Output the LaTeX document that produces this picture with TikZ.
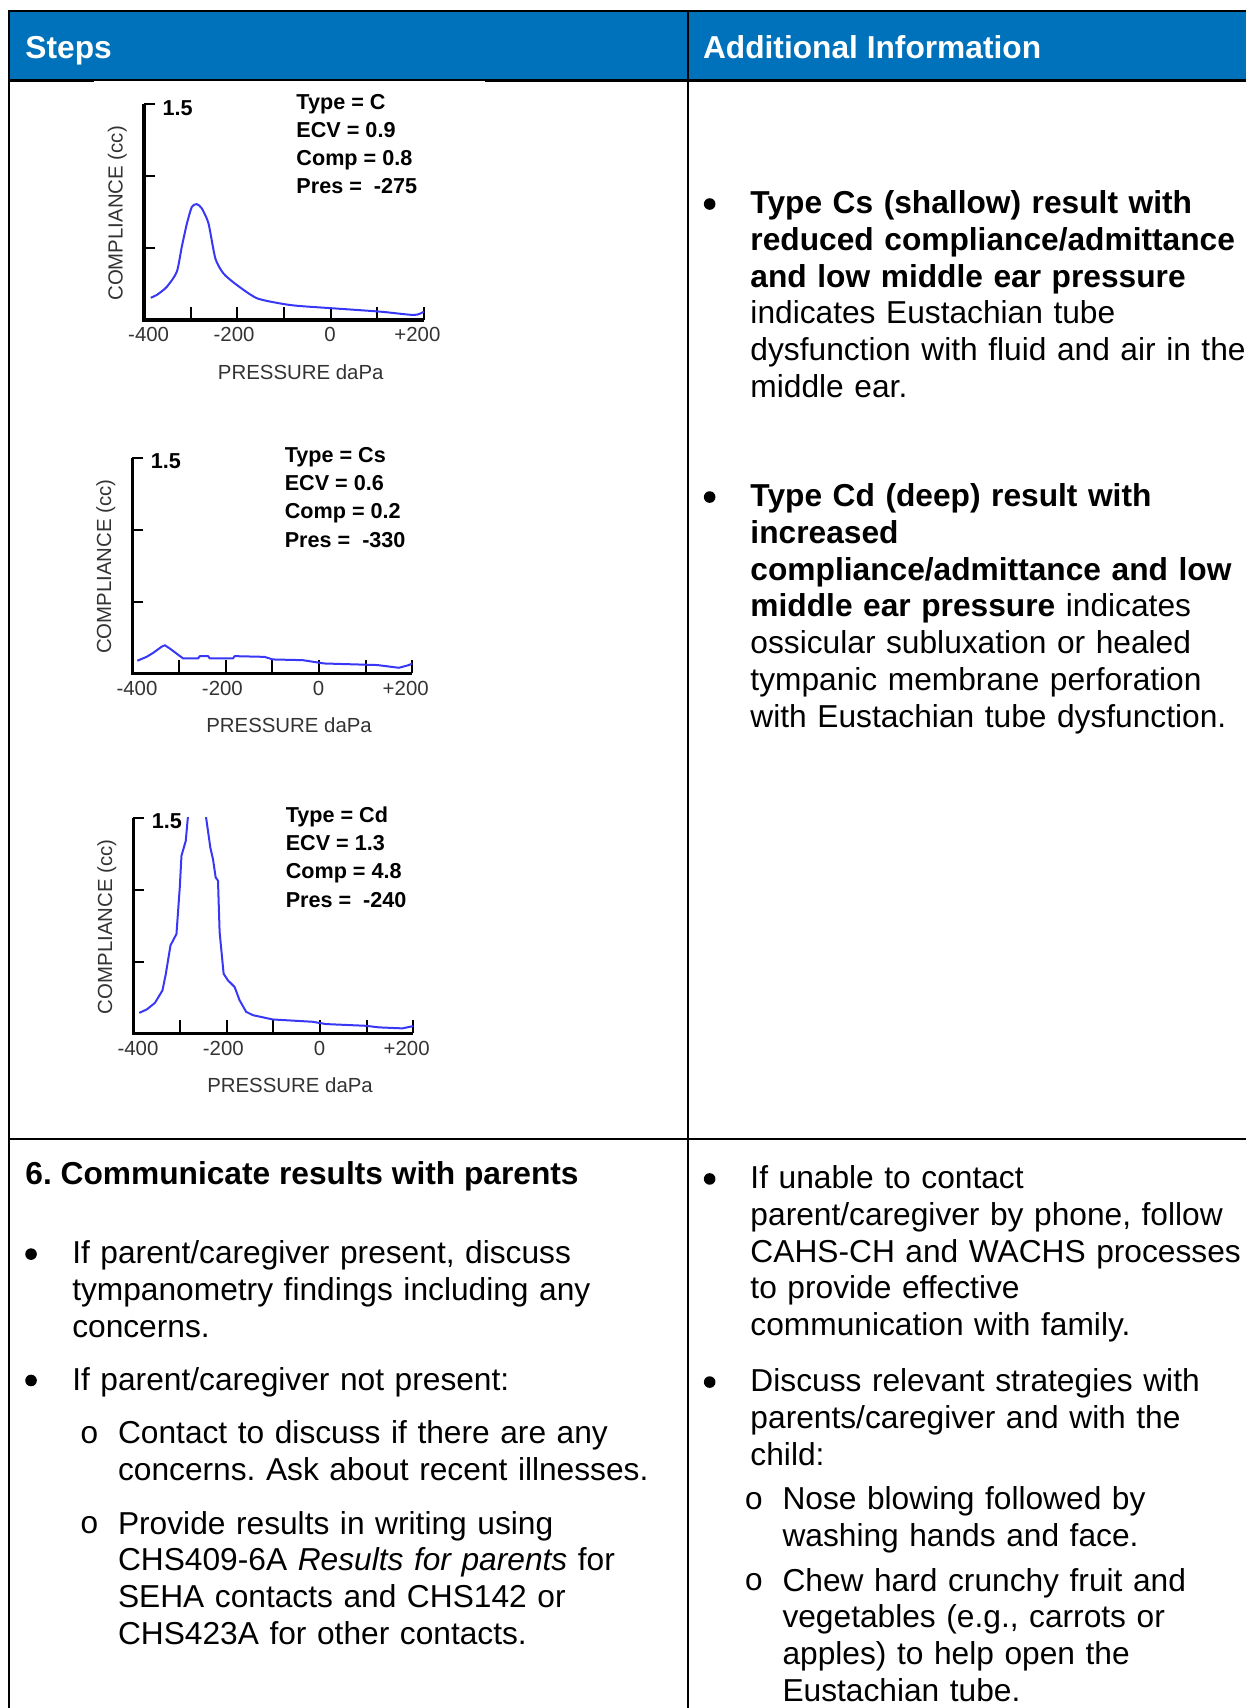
\documentclass[tikz,border=0pt]{standalone}
\usepackage{fontspec}
\setmainfont{Liberation Sans}
\newfontfamily\ringfont{Liberation Mono}
\usepackage{xcolor}
\frenchspacing
\definecolor{headblue}{HTML}{0072BC}
\definecolor{curveblue}{RGB}{55,55,245}
\definecolor{chartgray}{HTML}{333333}
\newcommand{\bodyfont}{\fontsize{15.85pt}{18.35pt}\selectfont}
\newcommand{\chartfont}{\fontsize{10.8pt}{13pt}\selectfont}
\newcommand{\labelfont}{\fontsize{10.2pt}{12pt}\selectfont}
\newcommand{\firstline}{\rule{0pt}{13pt}}

\tikzset{
  gridline/.style={line width=1pt},
  headtext/.style={anchor=base west, inner sep=0pt, text=white, font=\bodyfont\bfseries},
  titletext/.style={anchor=base west, inner sep=0pt, font=\bodyfont\bfseries},
  celltext/.style={anchor=north west, inner sep=0pt, align=left, text width=330pt, font=\bodyfont},
  bulletmark/.style={circle, fill=black, inner sep=0pt, minimum size=5.8pt},
  ringmark/.style={anchor=base, inner sep=0pt, font=\bodyfont\ringfont},
  axisline/.style={line width=1.6pt},
  tickline/.style={line width=1pt},
  statline/.style={anchor=base west, inner sep=0pt, font=\chartfont\bfseries},
  ticktext/.style={anchor=base, inner sep=0pt, text=chartgray, font=\labelfont},
  axistext/.style={inner sep=0pt, text=chartgray, font=\labelfont},
  tympcurve/.style={curveblue, line width=1pt, line join=round},
}

% axes, ticks and readings of one tympanogram
\newcommand{\tympchart}[5]{%
  \draw[axisline] (-400,1.5) -- (-400,0) -- (200,0);
  \foreach \cc in {0.5,1,1.5} \draw[tickline] (-400,\cc) -- ++(23,0);
  \foreach \pp in {-300,-200,...,200} \draw[tickline] (\pp,0) -- ++(0,0.09);
  \node[statline] (#1-max) at (-361,1.425) {1.5};
  \foreach \px/\lbl [count=\i] in {-390/-400, -207/-200, -1/0, 186/+200}
    \node[ticktext] (#1-t\i) at (\px,-0.152) {\lbl};
  \node[ticktext] (#1-xlab) at (-64,-0.413) {PRESSURE daPa};
  \node[axistext, rotate=90] (#1-ylab) at (-457,0.742) {COMPLIANCE (cc)};
  \node[statline] (#1-type) at (-74,1.465) {Type = #2};
  \node[statline] (#1-ecv) at (-74,1.270) {ECV = #3};
  \node[statline] (#1-comp) at (-74,1.075) {Comp = #4};
  \node[statline] (#1-pres) at (-74,0.878) {Pres = \ #5};
}

\begin{document}
\begin{tikzpicture}[x=0.5446pt, y=-0.5446pt]
   \useasboundingbox (0,0) rectangle (1144,1568);

   % table frame
   \fill[headblue] (8.6,10.1) rectangle (1144,74.1);
   \draw[gridline] (1144,10.1) -- (8.6,10.1) -- (8.6,1568);
   \draw[gridline, line width=1.3pt] (8.6,74.1) -- (1144,74.1);
   \draw[gridline] (632,10.1) -- (632,1568);
   \draw[gridline] (8.6,1046) -- (1144,1046);
   % white margin of the first graph over the rule
   \fill[white] (86,74.3) rectangle (445,75.6);

   \node[headtext] (steps) at (23,53.5) {Steps};
   \node[headtext] (addinfo) at (645,53.5) {Additional Information};

   % tympanograms
   \begin{scope}[shift={(303.5,293.8)}, x=0.23325pt, y=71.887pt]
     \tympchart{gc}{C}{0.9}{0.8}{-275}
     \draw[tympcurve] plot[smooth, tension=0.4] coordinates {(-385.6,0.155) (-372.7,0.174)
       (-351,0.231) (-329.7,0.335) (-319,0.509) (-308,0.671) (-297.4,0.787) (-286.7,0.806)
       (-276,0.776) (-261.7,0.671) (-247,0.428) (-229.5,0.323) (-200.7,0.243) (-157.6,0.151)
       (-100.4,0.111) (-64.5,0.097) (7,0.081) (107.5,0.058) (179,0.035) (200,0.058)};
   \end{scope}

   \begin{scope}[shift={(292.8,618.2)}, x=0.23325pt, y=71.887pt]
     \tympchart{gs}{Cs}{0.6}{0.2}{-330}
     \draw[tympcurve] (-389.3,0.088) -- (-369.4,0.115) -- (-355.2,0.143) -- (-337.4,0.185)
       -- (-330.3,0.196) -- (-319.6,0.173) -- (-305.3,0.138) -- (-291.1,0.104) -- (-259,0.104)
       -- (-255.5,0.12) -- (-237.7,0.12) -- (-234,0.104) -- (-184.3,0.104) -- (-180.7,0.12)
       -- (-116.7,0.115) -- (-98.9,0.097) -- (-34.9,0.092) -- (11.4,0.069) -- (125.2,0.058)
       -- (171.5,0.039) -- (192.9,0.058) -- (200,0.069);
   \end{scope}

   \begin{scope}[shift={(293.7,948.7)}, x=0.23325pt, y=71.887pt]
     \tympchart{gd}{Cd}{1.3}{4.8}{-240}
     \begin{scope}
       \clip (-420,-0.05) rectangle (210,1.5);
       \draw[tympcurve] (-387.2,0.143) -- (-371.5,0.166) -- (-353.7,0.212) -- (-337.4,0.3)
         -- (-330.3,0.415) -- (-320.3,0.612) -- (-307.5,0.692) -- (-300.4,1.015) -- (-296.8,1.235)
         -- (-287.6,1.339) -- (-282.6,1.52) -- (-263,2.2) -- (-244.8,1.52) -- (-234.9,1.292)
         -- (-229.2,1.212) -- (-223.5,1.085) -- (-218.5,1.062) -- (-215,0.704) -- (-206.4,0.415)
         -- (-197.2,0.369) -- (-182.9,0.323) -- (-172.3,0.231) -- (-158.1,0.15) -- (-143.8,0.127)
         -- (-101.1,0.097) -- (-15.7,0.081) -- (12.8,0.065) -- (98.2,0.053) -- (126.7,0.042)
         -- (176.5,0.035) -- (200,0.051);
     \end{scope}
   \end{scope}

   % additional information, top row
   \node[celltext] (typecs) at (688.6,172.1) {\firstline\textbf{Type Cs (shallow) result with}\\
     \textbf{reduced compliance/admittance}\\
     \textbf{and low middle ear pressure}\\
     indicates Eustachian tube\\
     dysfunction with fluid and air in the\\
     middle ear.};
   \node[celltext] (typecd) at (688.6,441.1) {\firstline\textbf{Type Cd (deep) result with}\\
     \textbf{increased}\\
     \textbf{compliance/admittance and low}\\
     \textbf{middle ear pressure} indicates\\
     ossicular subluxation or healed\\
     tympanic membrane perforation\\
     with Eustachian tube dysfunction.};

   % step 6
   \node[titletext] (step6) at (23,1087) {6. Communicate results with parents};
   \node[celltext] (present) at (66,1136.1) {\firstline If parent/caregiver present, discuss\\
     tympanometry findings including any\\
     concerns.};
   \node[celltext] (absent) at (66,1252.1) {\firstline If parent/caregiver not present:};
   \node[celltext] (contact) at (108,1301.1) {\firstline Contact to discuss if there are any\\
     concerns. Ask about recent illnesses.};
   \node[celltext] (writing) at (108,1384.1) {\firstline Provide results in writing using\\
     CHS409-6A \textit{Results for parents} for\\
     SEHA contacts and CHS142 or\\
     CHS423A for other contacts.};

   % additional information, step 6
   \node[celltext] (unable) at (688.6,1067.1) {\firstline If unable to contact\\
     parent/caregiver by phone, follow\\
     CAHS-CH and WACHS processes\\
     to provide effective\\
     communication with family.};
   \node[celltext] (discuss) at (688.6,1253.6) {\firstline Discuss relevant strategies with\\
     parents/caregiver and with the\\
     child:};
   \node[celltext] (nose) at (718,1361.6) {\firstline Nose blowing followed by\\
     washing hands and face.};
   \node[celltext] (chew) at (718,1436.6) {\firstline Chew hard crunchy fruit and\\
     vegetables (e.g., carrots or\\
     apples) to help open the\\
     Eustachian tube.};

   % list marks
   \foreach \bx/\by [count=\i] in {651.5/187.3, 651.5/456.3, 28.5/1151.3, 28.5/1267.3,
       651.5/1082.3, 651.5/1268.8}
     \node[bulletmark] (dot\i) at (\bx,\by) {};
   \foreach \rx/\ry [count=\i] in {82/1325, 82/1408, 692/1385.5, 692/1460.5}
     \node[ringmark] (ring\i) at (\rx,\ry) {o};
\end{tikzpicture}
\end{document}
